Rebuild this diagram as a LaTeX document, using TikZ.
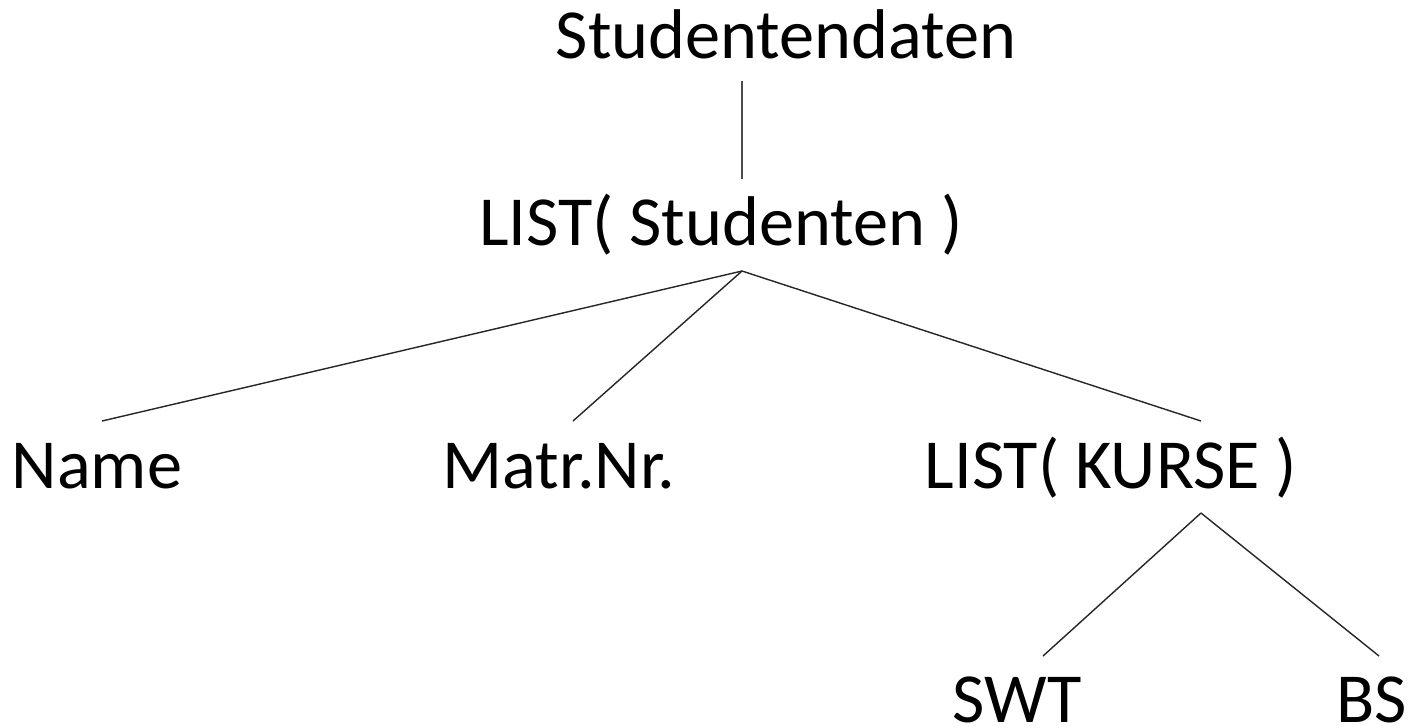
\documentclass[tikz,border=0pt]{standalone}
\usepackage{fontspec}
\setmainfont{Carlito}
\usepackage{tikz}
\usetikzlibrary{positioning}

\begin{document}
\begin{tikzpicture}[
    x=0.01cm, y=-0.01cm,
    font=\fontsize{20}{24}\selectfont,
    term/.style={inner sep=0pt, anchor=base},
    edge/.style={line width=0.4pt, black!85}
  ]
    \useasboundingbox (0,0) rectangle (1408,726);
    \node[term] (daten) at (786,58) {Studentendaten};
    \node[term] (studenten) at (721,245) {LIST( Studenten )};
    \node[term] (name) at (97,488) {Name};
    \node[term] (matrnr) at (559,488) {Matr.Nr.};
    \node[term] (kurse) at (1111,488) {LIST( KURSE )};
    \node[term] (swt) at (1017,722) {SWT};
    \node[term] (bs) at (1372,722) {BS};
    % connection points
    \coordinate (daten-out) at (742,81);
    \coordinate (studenten-in) at (742,179);
    \coordinate (studenten-out) at (742,271);
    \coordinate (name-in) at (102,421);
    \coordinate (matrnr-in) at (573,421);
    \coordinate (kurse-in) at (1201,421);
    \coordinate (kurse-out) at (1201,513);
    \coordinate (swt-in) at (1043,656);
    \coordinate (bs-in) at (1379,656);
    \draw[edge, line width=0.6pt, black!70] (daten-out) -- (studenten-in);
    \draw[edge] (studenten-out) -- (name-in);
    \draw[edge] (studenten-out) -- (matrnr-in);
    \draw[edge] (studenten-out) -- (kurse-in);
    \draw[edge] (kurse-out) -- (swt-in);
    \draw[edge] (kurse-out) -- (bs-in);
  \end{tikzpicture}
\end{document}
